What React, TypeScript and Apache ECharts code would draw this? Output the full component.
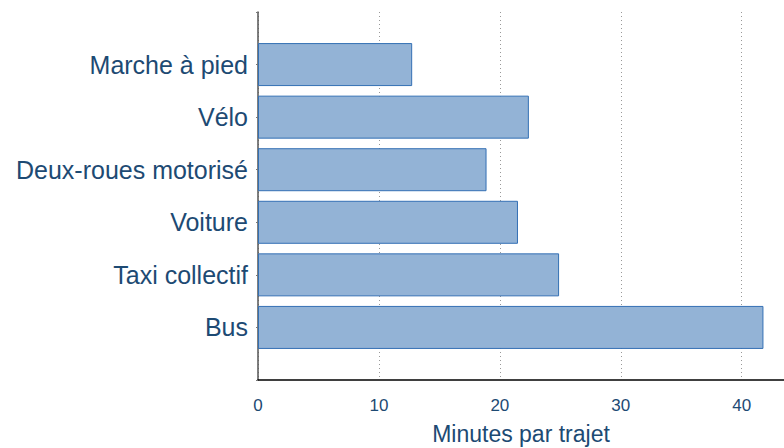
import React, { useEffect, useRef } from "react";
import * as echarts from "echarts";

const categories = ["", "Bus", "Taxi collectif", "Voiture", "Deux-roues motorisé", "Vélo", "Marche à pied", ""];
const minutes = [null, 41.8, 24.9, 21.5, 18.9, 22.4, 12.75, null];
const xTicks = [0, 10, 20, 30, 40];

const TEXT = "#1d4a73";
const FONT = "'Liberation Sans', Arial, sans-serif";

export default function App() {
  const ref = useRef<HTMLDivElement>(null);
  useEffect(() => {
    if (!ref.current) return;
    const chart = echarts.init(ref.current, null, { renderer: "svg" });
    chart.setOption({
      animation: false,
      grid: { left: 258, right: 0, top: 12, bottom: 68, containLabel: false, outerBoundsMode: "none" },
      xAxis: {
        type: "value",
        min: 0,
        max: 43.5,
        interval: 10,
        name: "Minutes par trajet",
        nameLocation: "middle",
        nameGap: 42,
        nameTextStyle: { color: TEXT, fontSize: 23, fontFamily: FONT },
        axisLine: { show: true, onZero: false, lineStyle: { color: "#000", width: 1.5 } },
        axisTick: { show: false },
        axisLabel: {
          color: TEXT,
          fontSize: 17,
          fontFamily: FONT,
          margin: 17,
          showMaxLabel: false,
          formatter: (v: number) => (xTicks.includes(v) ? String(v) : ""),
        },
        splitLine: { show: true, lineStyle: { color: "#999", type: [1, 3], width: 1 } },
      },
      yAxis: {
        type: "category",
        data: categories,
        boundaryGap: false,
        axisLine: { show: true, lineStyle: { color: "#555", width: 1.5 } },
        axisTick: { show: true, length: 2, lineStyle: { color: "#777" } },
        axisLabel: { color: TEXT, fontSize: 25, fontFamily: FONT, margin: 10 },
        splitLine: { show: false },
      },
      series: [
        {
          type: "bar",
          data: minutes,
          barWidth: 43,
          itemStyle: { color: "#93b3d6", borderColor: "#3470b4", borderWidth: 1 },
        },
      ],
    });
    return () => chart.dispose();
  }, []);
  return <div ref={ref} style={{ position: "absolute", left: 0, top: 0, width: 784, height: 448 }} />;
}
